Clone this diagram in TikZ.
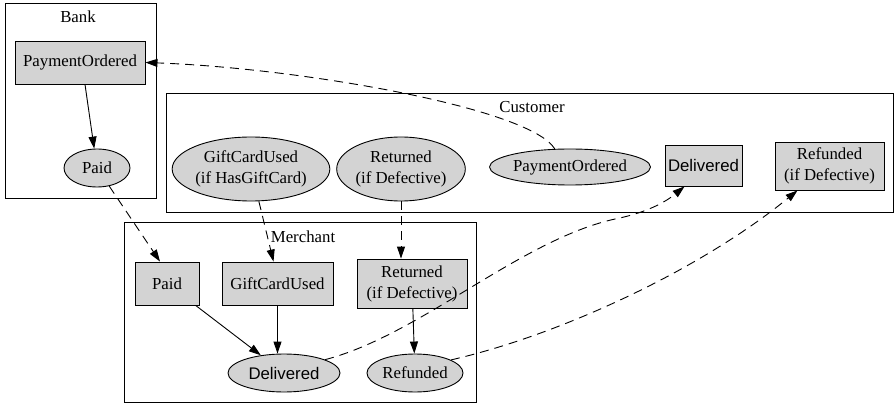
\documentclass[tikz,border=0pt]{standalone}
\usepackage{fontspec}
\setmainfont{Liberation Serif}
\newfontfamily\helv{Liberation Sans}
\usetikzlibrary{arrows.meta,shapes.geometric}
\definecolor{nodegray}{RGB}{211,211,211}
\begin{document}
\begin{tikzpicture}[x=1pt,y=-1pt,
  every node/.style={font=\fontsize{16.8}{21}\selectfont},
  cluster/.style={draw,line width=0.9pt,rectangle,inner sep=0pt},
  clabel/.style={inner sep=0pt},
  boxnode/.style={draw,fill=nodegray,line width=0.9pt,rectangle,inner sep=0pt,align=center},
  ellnode/.style={draw,fill=nodegray,line width=0.9pt,ellipse,inner sep=0pt,align=center},
  solidedge/.style={line width=0.9pt,-{Triangle[length=12pt,width=8pt]}},
  dashedge/.style={line width=0.9pt,dash pattern=on 9pt off 6pt,-{Triangle[length=12pt,width=8pt]}}
]
\useasboundingbox (0,0) rectangle (894,406);
% clusters
\node[cluster,minimum width=151pt,minimum height=195pt] (bank) at (80.5,100.5) {};
\node[clabel] (banklab) at (78,17) {Bank};
\node[cluster,minimum width=727pt,minimum height=119pt] (cust) at (529.5,152.5) {};
\node[clabel] (custlab) at (532,107) {Customer};
\node[cluster,minimum width=352pt,minimum height=180pt] (merch) at (300,312) {};
\node[clabel] (merchlab) at (303,237) {Merchant};
% bank
\node[boxnode,minimum width=130pt,minimum height=43pt] (bpo) at (80,62.5) {PaymentOrdered};
\node[ellnode,minimum width=66pt,minimum height=38pt] (bpaid) at (97,168) {Paid};
% customer
\node[ellnode,minimum width=150pt,minimum height=64pt] (cgift) at (251,169) {GiftCardUsed\\(if HasGiftCard)};
\node[ellnode,minimum width=108pt,minimum height=64pt] (cret) at (401,169) {Returned\\(if Defective)};
\node[ellnode,minimum width=140pt,minimum height=36pt] (cpo) at (570,167) {PaymentOrdered};
\node[boxnode,minimum width=77pt,minimum height=41pt,font=\helv\fontsize{16.8}{21}\selectfont] (cdel) at (703.5,165.5) {Delivered};
\node[boxnode,minimum width=109pt,minimum height=48pt] (cref) at (829.5,166) {Refunded\\(if Defective)};
% merchant
\node[boxnode,minimum width=64pt,minimum height=43pt] (mpaid) at (167,283.5) {Paid};
\node[boxnode,minimum width=111pt,minimum height=43pt] (mgift) at (277.5,283.5) {GiftCardUsed};
\node[boxnode,minimum width=110pt,minimum height=49pt] (mret) at (412,283.5) {Returned\\(if Defective)};
\node[ellnode,minimum width=112pt,minimum height=38pt,font=\helv\fontsize{16.8}{21}\selectfont] (mdel) at (284,373) {Delivered};
\node[ellnode,minimum width=96pt,minimum height=38pt] (mref) at (415,373) {Refunded};
% edges
\draw[solidedge] ([xshift=5pt]bpo.south) -- (bpaid);
\draw[dashedge] (bpaid) -- ([xshift=-7pt]mpaid.north);
\draw[dashedge] (cgift) -- ([xshift=-4pt]mgift.north);
\draw[dashedge] (cret.south) -- ([xshift=-11pt]mret.north);
\draw[dashedge] (cpo.130) .. controls (530,108) and (300,68) .. (bpo.east);
\draw[solidedge] (mpaid) -- (mdel);
\draw[solidedge] (mgift.south) -- (mgift.south |- mdel.north);
\draw[solidedge] (mret) -- (mref);
\draw[dashedge] (mdel.18) .. controls (420,335) and (520,240) .. (615,219) .. controls (650,212) and (668,200) .. ([xshift=-19pt]cdel.south);
\draw[dashedge] (mref.20) .. controls (560,335) and (700,270) .. ([xshift=-32pt]cref.south);
\end{tikzpicture}
\end{document}
